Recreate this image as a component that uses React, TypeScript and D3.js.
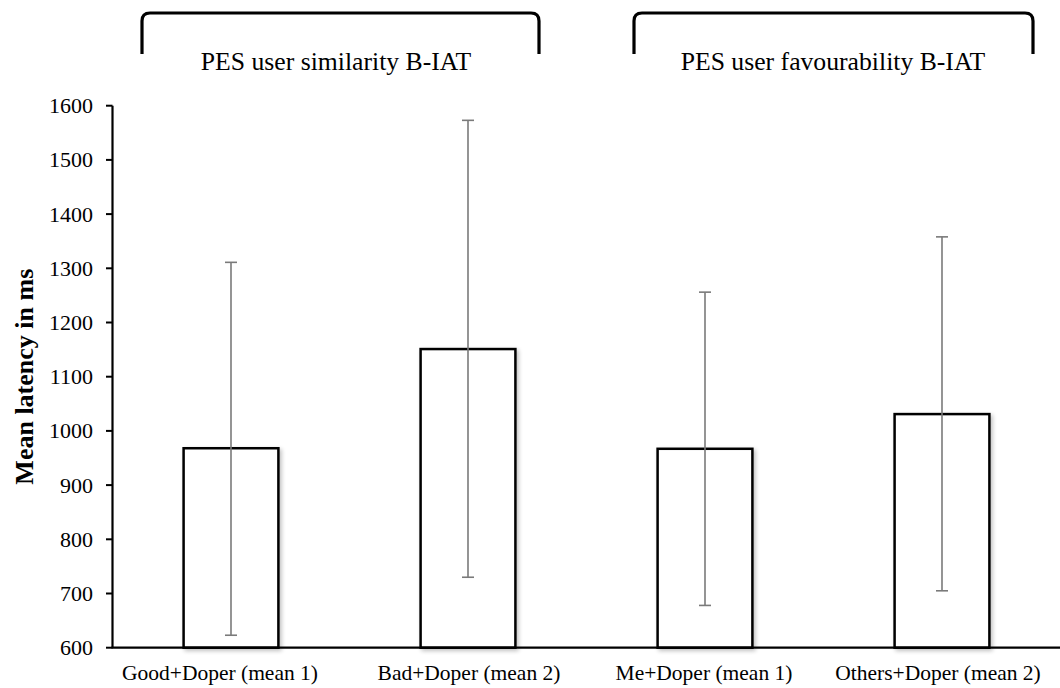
import React from "react";
import * as d3 from "d3";

const categories = [
  "Good+Doper (mean 1)",
  "Bad+Doper (mean 2)",
  "Me+Doper (mean 1)",
  "Others+Doper (mean 2)",
];
const means = [968, 1151, 967, 1031];
const errLow = [623, 730, 678, 705];
const errHigh = [1311, 1573, 1256, 1358];
const yTicks = [600, 700, 800, 900, 1000, 1100, 1200, 1300, 1400, 1500, 1600];
const groupTitles = ["PES user similarity B-IAT", "PES user favourability B-IAT"];
const yLabel = "Mean latency in ms";

const W = 1060;
const H = 688;
const FONT = '"Liberation Serif", "DejaVu Serif", serif';
const ts = { fontFamily: FONT };
const labelShift = [-11, 1, -1, -4];

export default function App() {
  const x = d3
    .scaleBand<string>()
    .domain(categories)
    .range([112.5, 1060.5])
    .paddingInner(0.6)
    .paddingOuter(0.3);
  const y = d3.scaleLinear().domain([600, 1600]).range([647.7, 105.7]);

  const brackets = [
    { x0: 142, x1: 539, tx: 336 },
    { x0: 634, x1: 1033, tx: 833 },
  ];
  const r = 8;
  const top = 13;
  const bottom = 54;

  const cx = (c: string) => (x(c) as number) + x.bandwidth() / 2;

  return (
    <svg
      width={W}
      height={H}
      style={{ position: "absolute", left: 0, top: 0, background: "#fff", fontFamily: FONT }}
    >
      <defs>
        <filter id="shadow" x="-20%" y="-20%" width="140%" height="140%">
          <feGaussianBlur in="SourceAlpha" stdDeviation="2" />
          <feOffset dx="1.5" dy="1.5" result="b" />
          <feComponentTransfer>
            <feFuncA type="linear" slope="0.25" />
          </feComponentTransfer>
          <feMerge>
            <feMergeNode />
            <feMergeNode in="SourceGraphic" />
          </feMerge>
        </filter>
      </defs>
      <rect width={W} height={H} fill="#fff" />

      {/* brackets and group titles */}
      {brackets.map((b, i) => (
        <g key={i}>
          <path
            d={`M${b.x0},${bottom} L${b.x0},${top + r} Q${b.x0},${top} ${b.x0 + r},${top} L${b.x1 - r},${top} Q${b.x1},${top} ${b.x1},${top + r} L${b.x1},${bottom}`}
            fill="none"
            stroke="#000"
            strokeWidth={3.2}
          />
          <text x={b.tx} y={70} textAnchor="middle" fontSize={25.7} fill="#000" style={ts}>
            {groupTitles[i]}
          </text>
        </g>
      ))}

      {/* bars */}
      {categories.map((c, i) => (
        <rect
          key={c}
          x={x(c)}
          y={y(means[i])}
          width={x.bandwidth()}
          height={y(600) - y(means[i])}
          fill="#fff"
          stroke="#000"
          strokeWidth={2.5}
          filter="url(#shadow)"
        />
      ))}

      {/* error bars */}
      {categories.map((c, i) => (
        <g key={c} stroke="#7a7a7a" strokeWidth={1.6}>
          <line x1={cx(c)} x2={cx(c)} y1={y(errHigh[i])} y2={y(errLow[i])} />
          <line x1={cx(c) - 6} x2={cx(c) + 6} y1={y(errHigh[i])} y2={y(errHigh[i])} />
          <line x1={cx(c) - 6} x2={cx(c) + 6} y1={y(errLow[i])} y2={y(errLow[i])} />
        </g>
      ))}

      {/* axes */}
      <line x1={112.5} x2={112.5} y1={y(1600)} y2={y(600)} stroke="#000" strokeWidth={2.2} />
      <line x1={111.5} x2={1060} y1={y(600)} y2={y(600)} stroke="#000" strokeWidth={2.2} />
      {yTicks.map((t) => (
        <g key={t}>
          <line x1={106} x2={112.5} y1={y(t)} y2={y(t)} stroke="#000" strokeWidth={2} />
          <text x={93} y={y(t)} dy="0.34em" textAnchor="end" fontSize={22} fill="#000" style={ts}>
            {t}
          </text>
        </g>
      ))}
      {categories.map((c, i) => (
        <text key={c} x={cx(c) + labelShift[i]} y={680} textAnchor="middle" fontSize={21.5} fill="#000" style={ts}>
          {c}
        </text>
      ))}
      <text
        transform={`translate(33,${(y(600) + y(1600)) / 2}) rotate(-90)`}
        textAnchor="middle"
        fontSize={26}
        fontWeight="bold"
        fill="#000"
        style={ts}
      >
        {yLabel}
      </text>
    </svg>
  );
}
